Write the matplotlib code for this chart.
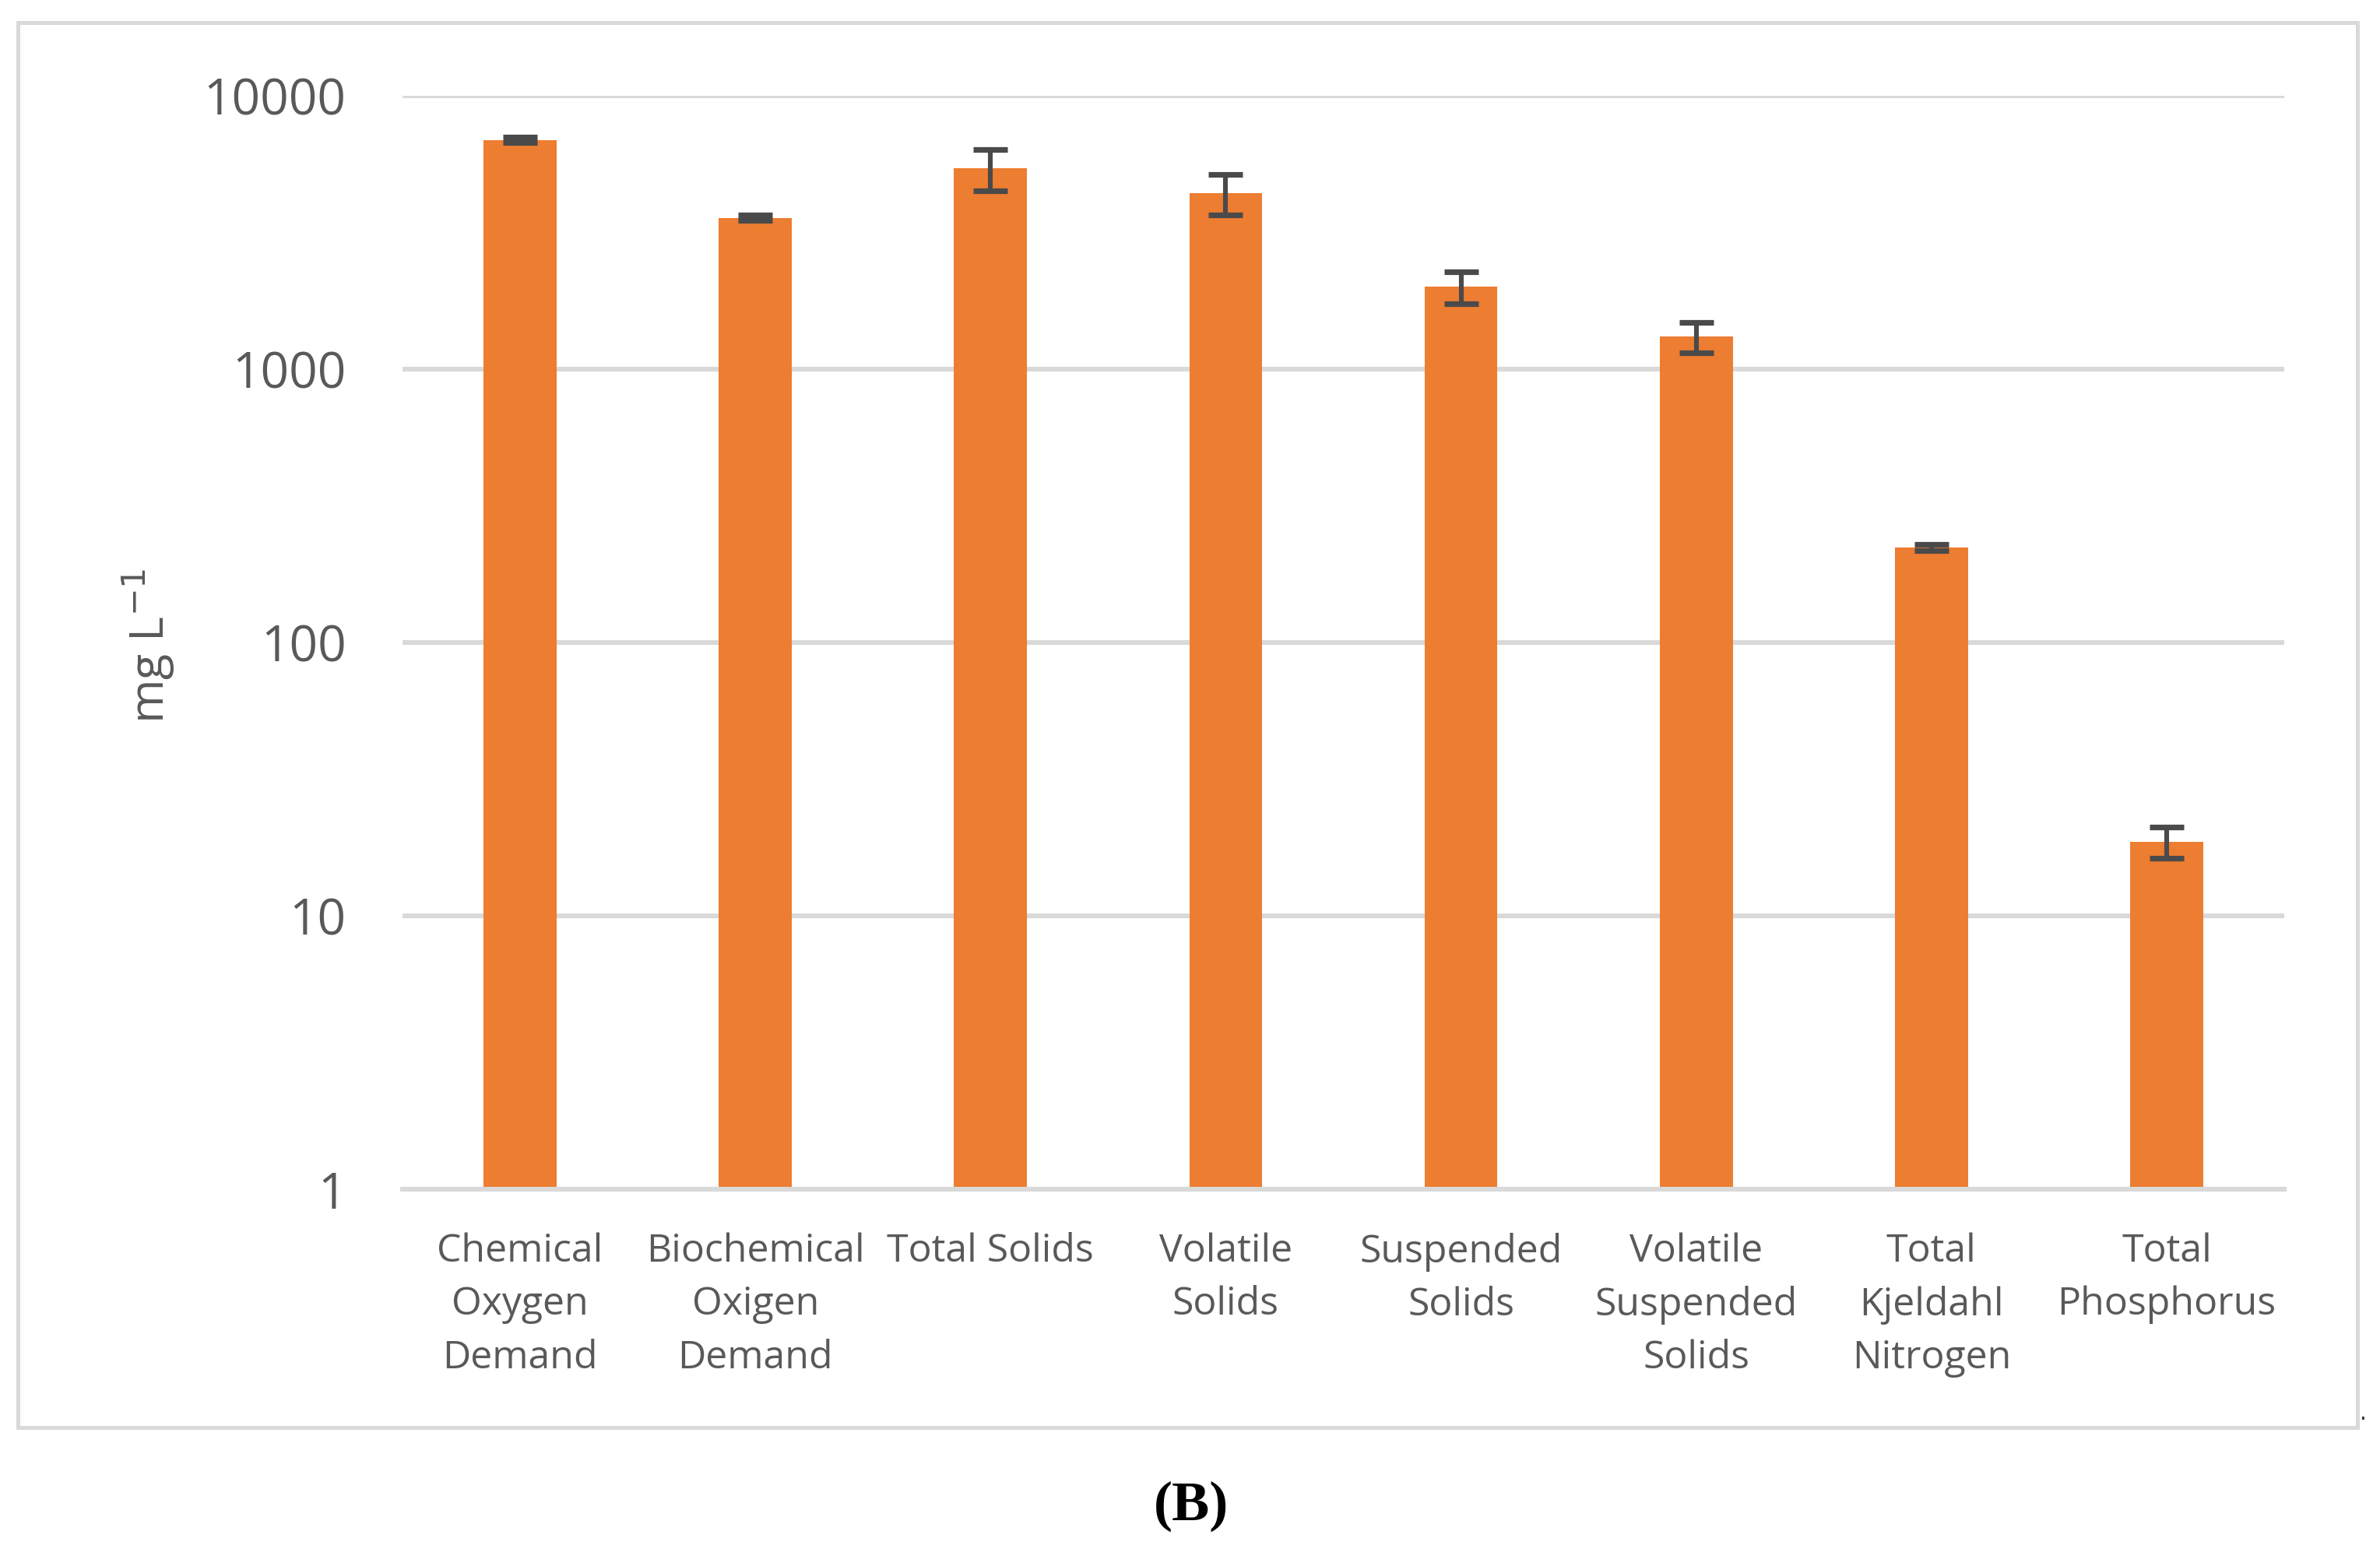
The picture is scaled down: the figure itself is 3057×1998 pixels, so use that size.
import matplotlib
matplotlib.use("Agg")
import matplotlib.pyplot as plt
from matplotlib.patches import Rectangle
import numpy as np

categories = ["Chemical\nOxygen\nDemand", "Biochemical\nOxigen\nDemand", "Total Solids",
              "Volatile\nSolids", "Suspended\nSolids", "Volatile\nSuspended\nSolids",
              "Total\nKjeldahl\nNitrogen", "Total\nPhosphorus"]
values = [6900, 3580, 5430, 4410, 2000, 1315, 223, 18.7]
errors = [150, 80, 930, 750, 270, 165, 6, 2.4]
yticks = [1, 10, 100, 1000, 10000]
ytick_labels = ["1", "10", "100", "1000", "10000"]

W, H = 3057, 1998
dpi = 200
fig = plt.figure(figsize=(W / dpi, H / dpi), dpi=dpi)
fig.patch.set_facecolor("white")

# outer chart border
fig.patches.append(Rectangle((23 / W, 1 - 1833 / H), (3028 - 23) / W, (1833 - 29) / H,
                             transform=fig.transFigure, fill=False, edgecolor="#d9d9d9",
                             linewidth=1.8, zorder=0))

ax = fig.add_axes([517 / W, 1 - 1527 / H, (2934 - 517) / W, (1527 - 123) / H])
x = np.arange(len(categories))
ax.bar(x, values, width=0.31, color="#ED7D31", zorder=3)
ax.errorbar(x, values, yerr=errors, fmt="none", ecolor="#4a4a4a", elinewidth=2.2,
            capsize=8, capthick=2.6, zorder=4)

ax.set_yscale("log")
ax.set_ylim(1, 10000)
ax.set_xlim(-0.5, len(categories) - 0.5)
ax.set_yticks(yticks)
ax.set_yticklabels(ytick_labels)
ax.yaxis.set_minor_locator(matplotlib.ticker.NullLocator())
ax.set_xticks(x)
ax.set_xticklabels(categories, linespacing=1.5, va="top", ha="center")

for s in ["top", "right", "left"]:
    ax.spines[s].set_visible(False)
ax.spines["bottom"].set_color("#d9d9d9")
ax.spines["bottom"].set_linewidth(2.2)
ax.spines["bottom"].set_zorder(5)
ax.grid(axis="y", color="#d9d9d9", linewidth=2.2, zorder=0)
ax.tick_params(axis="both", length=0)
ax.tick_params(axis="y", pad=26, labelsize=23, labelcolor="#595959")
ax.tick_params(axis="x", pad=20, labelsize=18, labelcolor="#595959")
for lab in ax.get_xticklabels() + ax.get_yticklabels():
    lab.set_family(["Open Sans", "DejaVu Sans"])

fig.text(191 / W, 1 - 829 / H, "mg L$^{-1}$", rotation=90, ha="center", va="center",
         fontsize=22, color="#595959", family=["Open Sans", "DejaVu Sans"])

fig.text(1530 / W, 1 - 1934 / H, "(B)", ha="center", va="center", fontsize=26,
         fontweight="bold", family=["Liberation Serif", "DejaVu Serif"], color="black")
fig.text(3035 / W, 1 - 1815 / H, ".", ha="center", va="center", fontsize=10, color="#333333")

fig.savefig("out.png", dpi=dpi, facecolor="white")
